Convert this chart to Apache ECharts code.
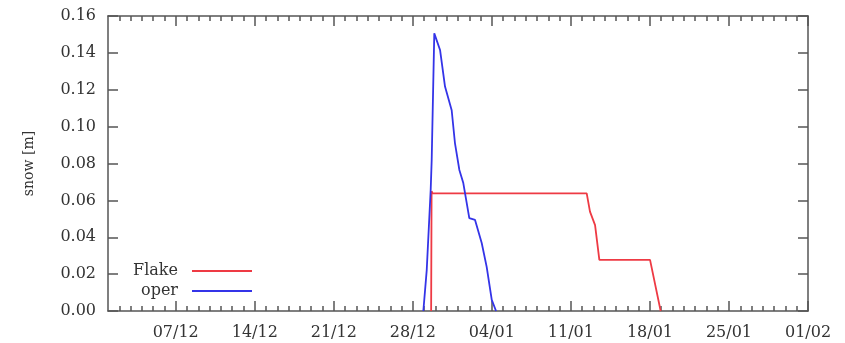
<!DOCTYPE html>
<html>
<head>
<meta charset="utf-8">
<script src="https://cdn.jsdelivr.net/npm/echarts@6/dist/echarts.min.js"></script>
<style>html,body{margin:0;padding:0;background:#fff}#c{width:845px;height:343px}</style>
</head>
<body>
<div id="c"></div>
<script>
// x values: days since 01/12
var xTickDays = [6, 13, 20, 27, 34, 41, 48, 55, 62];
var xTickLabels = ['07/12', '14/12', '21/12', '28/12', '04/01', '11/01', '18/01', '25/01', '01/02'];

var flakeDays = [28.62, 28.66, 28.75, 42.40, 42.69, 43.14, 43.52, 48.01, 48.95];
var flakeSnow = [0, 0.0650, 0.0638, 0.0638, 0.0539, 0.0466, 0.0277, 0.0277, 0];

var operDays = [27.93, 28.23, 28.58, 28.67, 28.90, 29.41, 29.85, 30.44, 30.73, 31.12, 31.47, 31.77, 32.00, 32.51, 33.10, 33.54, 33.99, 34.37];
var operSnow = [0, 0.0222, 0.0656, 0.0819, 0.1506, 0.1416, 0.1217, 0.1089, 0.0911, 0.0765, 0.0694, 0.0586, 0.0504, 0.0494, 0.0369, 0.0239, 0.0060, 0];

function zip(a, b) { return a.map(function (v, i) { return [v, b[i]]; }); }

// one minor tick per day
var dayTicks = [];
for (var d = 1; d < 62; d++) { if (xTickDays.indexOf(d) < 0) dayTicks.push(d); }

var FONT = 'DejaVu Serif';
var AX = '#555';
var TXT = '#333';
var chart = echarts.init(document.getElementById('c'));

function majorX(pos) {
  return {
    type: 'value', min: 0, max: 62, position: pos,
    axisLine: { show: true, onZero: false, lineStyle: { color: AX, width: 1.5 } },
    axisTick: { show: true, inside: true, length: 10, customValues: xTickDays, lineStyle: { color: AX, width: 1.5 } },
    axisLabel: pos === 'bottom' ? {
      show: true, customValues: xTickDays, margin: 14,
      fontFamily: FONT, fontSize: 16, color: TXT,
      formatter: function (v) { var i = xTickDays.indexOf(Math.round(v)); return i >= 0 ? xTickLabels[i] : ''; }
    } : { show: false },
    splitLine: { show: false }
  };
}
function minorX(pos) {
  return {
    type: 'value', min: 0, max: 62, position: pos,
    axisLine: { show: false, onZero: false },
    axisTick: { show: true, inside: true, length: 5, customValues: dayTicks, lineStyle: { color: AX, width: 1.5 } },
    axisLabel: { show: false },
    splitLine: { show: false }
  };
}

chart.setOption({
  animation: false,
  backgroundColor: '#fff',
  grid: { left: 108, right: 37, top: 16, bottom: 32 },
  xAxis: [majorX('bottom'), minorX('bottom'), majorX('top'), minorX('top')],
  yAxis: [
    {
      type: 'value', min: 0, max: 0.16, interval: 0.02, position: 'left',
      name: 'snow [m]', nameLocation: 'middle', nameGap: 72,
      nameTextStyle: { fontFamily: FONT, fontSize: 14, color: TXT },
      axisLine: { show: true, onZero: false, lineStyle: { color: AX, width: 1.5 } },
      axisTick: { show: true, inside: true, length: 10, lineStyle: { color: AX, width: 1.5 } },
      axisLabel: { margin: 12, fontFamily: FONT, fontSize: 16, color: TXT, formatter: function (v) { return v.toFixed(2); } },
      splitLine: { show: false }
    },
    {
      type: 'value', min: 0, max: 0.16, interval: 0.02, position: 'right',
      axisLine: { show: true, onZero: false, lineStyle: { color: AX, width: 1.5 } },
      axisTick: { show: true, inside: true, length: 10, lineStyle: { color: AX, width: 1.5 } },
      axisLabel: { show: false },
      splitLine: { show: false }
    }
  ],
  legend: [
    {
      data: ['Flake'], right: 593, top: 263, align: 'right', padding: 0,
      icon: 'rect', itemWidth: 60, itemHeight: 2,
      textStyle: { fontFamily: FONT, fontSize: 16, color: TXT, padding: [0, 9, 0, 0] }
    },
    {
      data: ['oper'], right: 593, top: 283, align: 'right', padding: 0,
      icon: 'rect', itemWidth: 60, itemHeight: 2,
      textStyle: { fontFamily: FONT, fontSize: 16, color: TXT, padding: [0, 9, 0, 0] }
    }
  ],
  series: [
    {
      name: 'Flake', type: 'line', xAxisIndex: 0, yAxisIndex: 0,
      data: zip(flakeDays, flakeSnow), symbol: 'none',
      lineStyle: { color: '#ee3a44', width: 1.8 }, itemStyle: { color: '#ee3a44' }
    },
    {
      name: 'oper', type: 'line', xAxisIndex: 0, yAxisIndex: 0,
      data: zip(operDays, operSnow), symbol: 'none',
      lineStyle: { color: '#3434e8', width: 1.8 }, itemStyle: { color: '#3434e8' }
    }
  ]
});
</script>
</body>
</html>
